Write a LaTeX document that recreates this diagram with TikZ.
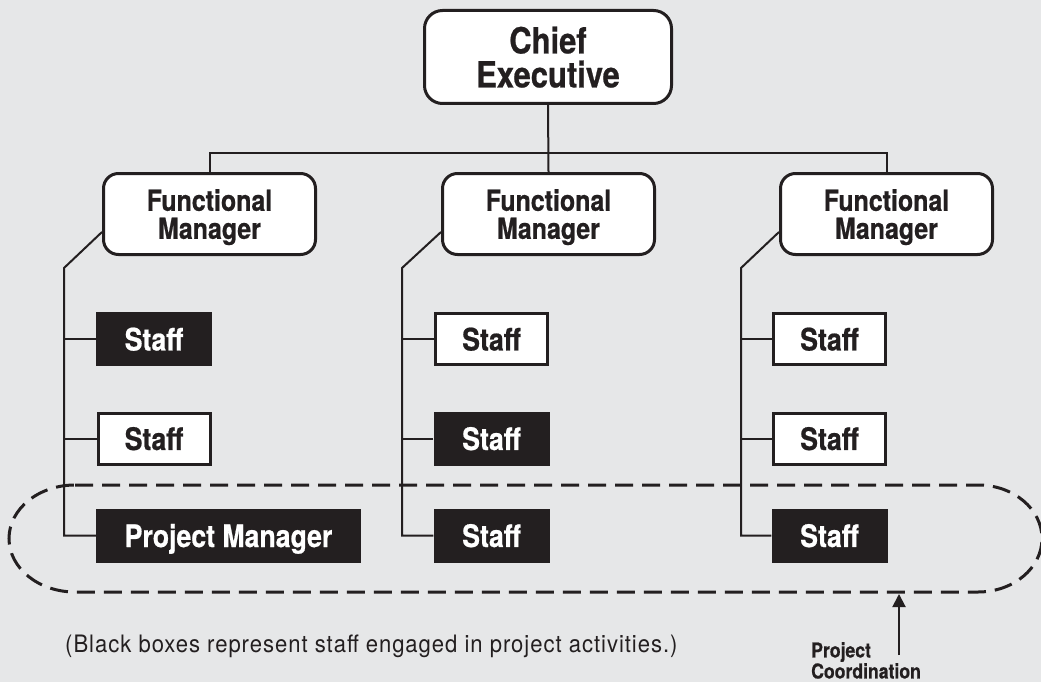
\documentclass[tikz,border=0pt]{standalone}
\usepackage{fontspec}
\setmainfont{TeX Gyre Heros}[FakeStretch=0.86, BoldFeatures={FakeBold=0.6}]
\newfontfamily\legfont{TeX Gyre Heros}[FakeStretch=0.92,LetterSpace=4]
\usetikzlibrary{arrows.meta}
\definecolor{bg}{HTML}{E6E7E8}
\definecolor{ink}{HTML}{231F20}
\tikzset{
  mgr/.style={draw=ink, line width=3pt, fill=white, rounded corners=15pt, align=center,
    inner sep=0pt, text=ink, font=\bfseries\fontsize{29}{28}\selectfont,
    minimum width=212pt, minimum height=81pt, text depth=0pt},
  ceo/.style={mgr, rounded corners=18pt, font=\bfseries\fontsize{36}{34}\selectfont,
    minimum width=247pt, minimum height=93pt},
  wbox/.style={draw=ink, line width=3pt, fill=white, text=ink, inner sep=0pt,
    font=\bfseries\fontsize{31}{31}\selectfont, minimum width=112pt, minimum height=51pt,
    text depth=0pt},
  bbox/.style={fill=ink, text=white, inner sep=0pt,
    font=\bfseries\fontsize{31}{31}\selectfont, minimum width=116pt, minimum height=54pt,
    text depth=0pt},
  link/.style={draw=ink, line width=2pt},
  dashring/.style={draw=ink, line width=3pt, dash pattern=on 18pt off 9pt}
}
\begin{document}
\begin{tikzpicture}[x=1pt,y=-1pt]
\fill[bg] (0,0) rectangle (1041,682);
\useasboundingbox (0,0) rectangle (1041,682);

% dashed project coordination ring
\draw[dashring] (75,485) -- (978,485)
  arc[start angle=90, end angle=-90, x radius=64pt, y radius=53.5pt]
  -- (75,592)
  arc[start angle=270, end angle=90, x radius=66pt, y radius=53.5pt] -- cycle;

% nodes
\node[ceo] (ce) at (548,57) {Chief\\Executive};
\node[mgr] (fm1) at (209.5,214) {Functional\\Manager};
\node[mgr] (fm2) at (548.5,214) {Functional\\Manager};
\node[mgr] (fm3) at (886.5,214) {Functional\\Manager};

\node[bbox] (s11) at (154,339) {Staff};
\node[wbox] (s12) at (154,438.5) {Staff};
\node[bbox, minimum width=265pt] (pm) at (228.5,535.5) {Project Manager};

\node[wbox] (s21) at (491.5,339) {Staff};
\node[bbox] (s22) at (491.5,438.5) {Staff};
\node[bbox] (s23) at (491.5,535.5) {Staff};

\node[wbox] (s31) at (829.5,339) {Staff};
\node[wbox] (s32) at (829.5,438.5) {Staff};
\node[bbox] (s33) at (829.5,535.5) {Staff};

% top connectors
\coordinate (bus) at (548,153);
\draw[link] (ce.south) -- (fm2.north);
\draw[link] (fm1.north) |- (bus) -| (fm3.north);

% column connectors
\coordinate (d1) at ([yshift=-18pt]fm1.west);
\coordinate (k1) at (64,268);
\draw[link] (d1) -- (k1) |- (pm.west);
\draw[link] (s11.west) -- (s11.west -| k1);
\draw[link] (s12.west) -- (s12.west -| k1);

\coordinate (d2) at ([yshift=-18pt]fm2.west);
\coordinate (k2) at (402,268);
\draw[link] (d2) -- (k2) |- (s23.west);
\draw[link] (s21.west) -- (s21.west -| k2);
\draw[link] (s22.west) -- (s22.west -| k2);

\coordinate (d3) at ([yshift=-18pt]fm3.west);
\coordinate (k3) at (741,268);
\draw[link] (d3) -- (k3) |- (s33.west);
\draw[link] (s31.west) -- (s31.west -| k3);
\draw[link] (s32.west) -- (s32.west -| k3);

% legend
\node[anchor=base west, inner sep=0pt, text=ink, font=\legfont\fontsize{24}{24}\selectfont]
  (leg) at (65,652) {(Black boxes represent staff engaged in project activities.)};

% project coordination label and arrow
\node[anchor=north west, inner sep=0pt, align=left, text=ink,
  font=\bfseries\fontsize{20.5}{21}\selectfont] (pc) at (811,642) {Project\\Coordination};
\coordinate (arrs) at (899,655);
\coordinate (arre) at (899,594);
\draw[ink, line width=2pt, -{Triangle[length=13pt,width=13pt]}] (arrs) -- (arre);
\end{tikzpicture}
\end{document}
